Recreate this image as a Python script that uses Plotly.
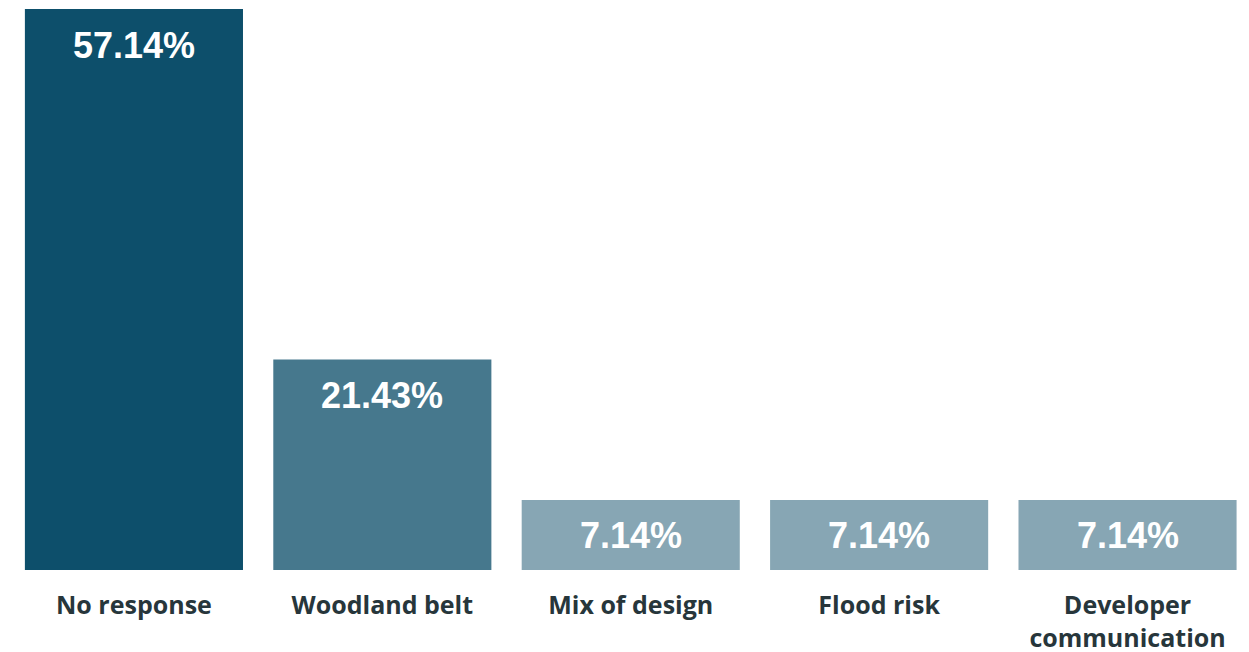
import plotly.graph_objects as go

categories = ["No response", "Woodland belt", "Mix of design", "Flood risk", "Developer<br>communication"]
values = [57.14, 21.43, 7.14, 7.14, 7.14]
labels = ["57.14%", "21.43%", "7.14%", "7.14%", "7.14%"]
colors = ["#0d4f6b", "#46788d", "#87a6b4", "#87a6b4", "#87a6b4"]

fig = go.Figure(go.Bar(
    x=list(range(len(categories))), y=values,
    marker=dict(color=colors, line=dict(width=0)),
    hoverinfo="skip",
))

for i, (v, t) in enumerate(zip(values, labels)):
    fig.add_annotation(x=i, y=v, text=t, showarrow=False, yanchor="middle", yshift=-36,
                       font=dict(family="Liberation Sans, Arial", size=36, color="white", weight="bold"))

fig.update_layout(
    width=1241, height=644,
    margin=dict(l=0, r=0, t=1, b=82),
    plot_bgcolor="white", paper_bgcolor="white",
    bargap=0.122,
    showlegend=False,
    xaxis=dict(tickmode="array", tickvals=list(range(len(categories))), ticktext=categories,
               range=[-0.507, 4.489], showgrid=False, zeroline=False, showline=False,
               ticks="", ticklabelstandoff=18, automargin=False,
               tickfont=dict(family="Open Sans", size=25, color="#27363b", weight="bold")),
    yaxis=dict(range=[0, 57.14], visible=False, showgrid=False, zeroline=False, automargin=False),
)

fig.write_html("out.html")
